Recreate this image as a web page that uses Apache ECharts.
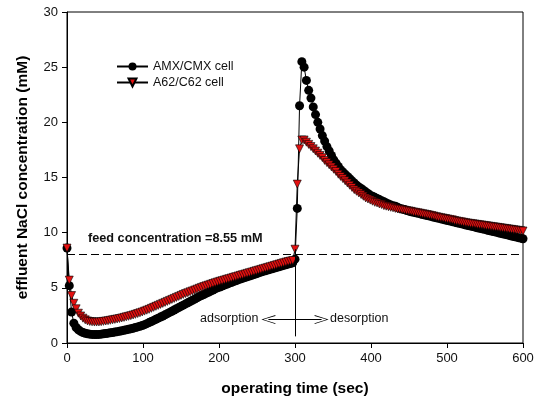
<!DOCTYPE html>
<html>
<head>
<meta charset="utf-8">
<script src="https://cdn.jsdelivr.net/npm/echarts@6/dist/echarts.min.js"></script>
<style>
  html, body { margin: 0; padding: 0; background: #fff; }
  #chart { width: 540px; height: 399px; }
</style>
</head>
<body>
<div id="chart"></div>
<script>
// sampling grid: one point every 3 s from 0 to 600 s
const tStart = 0;
const tStep = 3;

// AMX/CMX cell, effluent NaCl (mM)
const amxAdsorption = [
  8.6, 5.2, 2.8, 1.8, 1.4, 1.2, 1.05, 0.95, 0.88, 0.83,
  0.8, 0.78, 0.77, 0.77, 0.78, 0.8, 0.83, 0.86, 0.89, 0.92,
  0.95, 0.99, 1.03, 1.07, 1.11, 1.15, 1.19, 1.24, 1.29, 1.34,
  1.4, 1.46, 1.52, 1.58, 1.66, 1.75, 1.85, 1.95, 2.05, 2.15,
  2.25, 2.35, 2.45, 2.55, 2.66, 2.77, 2.88, 2.99, 3.1, 3.21,
  3.32, 3.43, 3.54, 3.65, 3.76, 3.87, 3.98, 4.09, 4.2, 4.3,
  4.4, 4.5, 4.6, 4.7, 4.8, 4.9, 5.0, 5.08, 5.16, 5.24,
  5.32, 5.4, 5.48, 5.56, 5.64, 5.72, 5.79, 5.86, 5.93, 6.0,
  6.07, 6.14, 6.21, 6.28, 6.35, 6.42, 6.49, 6.55, 6.61, 6.67,
  6.73, 6.79, 6.85, 6.91, 6.97, 7.03, 7.09, 7.15, 7.21, 7.27
];
const amxDesorption = [
  7.6, 12.2, 21.5, 25.5, 25.0, 23.8, 22.9, 22.2, 21.4, 20.7,
  20.0, 19.4, 18.8, 18.3, 17.8, 17.4, 17.0, 16.6, 16.3, 16.0,
  15.7, 15.5, 15.3, 15.1, 14.9, 14.7, 14.5, 14.3, 14.15, 14.0,
  13.85, 13.7, 13.55, 13.4, 13.3, 13.2, 13.1, 13.0, 12.9, 12.8,
  12.7, 12.6, 12.5, 12.45, 12.4, 12.3, 12.2, 12.15, 12.1, 12.0,
  11.95, 11.9, 11.85, 11.8, 11.75, 11.7, 11.65, 11.6, 11.55, 11.5,
  11.45, 11.4, 11.35, 11.3, 11.25, 11.2, 11.15, 11.1, 11.05, 11.0,
  10.95, 10.9, 10.85, 10.8, 10.75, 10.7, 10.65, 10.6, 10.55, 10.5,
  10.45, 10.4, 10.35, 10.3, 10.25, 10.2, 10.15, 10.1, 10.05, 10.0,
  9.95, 9.9, 9.85, 9.8, 9.75, 9.7, 9.65, 9.6, 9.55, 9.5,
  9.45
];

// A62/C62 cell, effluent NaCl (mM)
const a62Adsorption = [
  8.6, 5.7, 4.3, 3.6, 3.1, 2.7, 2.45, 2.25, 2.1, 2.0,
  1.95, 1.92, 1.9, 1.9, 1.91, 1.93, 1.96, 1.99, 2.02, 2.06,
  2.1, 2.14, 2.18, 2.22, 2.27, 2.32, 2.37, 2.42, 2.48, 2.54,
  2.6, 2.67, 2.74, 2.81, 2.89, 2.97, 3.05, 3.14, 3.23, 3.32,
  3.41, 3.5, 3.59, 3.68, 3.77, 3.86, 3.95, 4.04, 4.13, 4.22,
  4.31, 4.4, 4.48, 4.56, 4.64, 4.72, 4.8, 4.88, 4.96, 5.04,
  5.11, 5.18, 5.25, 5.32, 5.39, 5.46, 5.53, 5.59, 5.65, 5.71,
  5.77, 5.83, 5.89, 5.95, 6.01, 6.07, 6.13, 6.19, 6.25, 6.31,
  6.37, 6.43, 6.49, 6.55, 6.61, 6.67, 6.73, 6.79, 6.85, 6.91,
  6.97, 7.03, 7.09, 7.15, 7.21, 7.27, 7.33, 7.38, 7.43, 7.48
];
const a62Desorption = [
  8.5, 14.4, 17.6, 18.4, 18.4, 18.2, 18.0, 17.8, 17.6, 17.4,
  17.2, 17.0, 16.8, 16.55, 16.35, 16.15, 15.95, 15.75, 15.55, 15.3,
  15.1, 14.9, 14.7, 14.5, 14.3, 14.1, 13.9, 13.75, 13.6, 13.45,
  13.3, 13.15, 13.05, 12.95, 12.85, 12.75, 12.7, 12.6, 12.55, 12.45,
  12.4, 12.35, 12.3, 12.25, 12.2, 12.15, 12.12, 12.08, 12.05, 12.0,
  11.97, 11.93, 11.88, 11.84, 11.8, 11.76, 11.72, 11.68, 11.64, 11.6,
  11.55, 11.5, 11.45, 11.4, 11.36, 11.32, 11.28, 11.24, 11.2, 11.16,
  11.1, 11.06, 11.02, 10.98, 10.94, 10.9, 10.87, 10.84, 10.81, 10.78,
  10.75, 10.72, 10.69, 10.66, 10.63, 10.6, 10.57, 10.54, 10.51, 10.48,
  10.45, 10.42, 10.39, 10.36, 10.33, 10.3, 10.27, 10.24, 10.21, 10.18,
  10.15
];

const xTicks = [0, 100, 200, 300, 400, 500, 600];
const yTicks = [0, 5, 10, 15, 20, 25, 30];
const feedLevel = 8;

const toPairs = vals => vals.map((v, i) => [tStart + i * tStep, v]);
const amxData = toPairs(amxAdsorption.concat(amxDesorption));
const a62Data = toPairs(a62Adsorption.concat(a62Desorption));

const font = '"Liberation Sans", Arial, sans-serif';
const chevron = 'path://M5,0 L10,14 L9,14 L5,2 L1,14 L0,14 Z';

const chart = echarts.init(document.getElementById('chart'));

chart.setOption({
  animation: false,
  textStyle: { fontFamily: font },
  grid: {
    left: 67, right: 17, top: 12, bottom: 56,
    outerBoundsMode: 'none',
    show: true, borderColor: '#000', borderWidth: 1
  },
  legend: {
    orient: 'vertical',
    left: 111, top: 55,
    itemWidth: 31, itemHeight: 10, itemGap: 3,
    textStyle: { fontSize: 12.5, color: '#111', fontFamily: font },
    data: ['AMX/CMX cell', 'A62/C62 cell']
  },
  xAxis: {
    type: 'value',
    min: xTicks[0], max: xTicks[xTicks.length - 1], interval: 100,
    name: 'operating time (sec)',
    nameLocation: 'middle', nameGap: 38,
    nameTextStyle: { fontSize: 15.5, fontWeight: 'bold', color: '#000' },
    axisLine: { lineStyle: { color: '#000', width: 1 } },
    axisTick: { length: 5, lineStyle: { color: '#000' } },
    axisLabel: { fontSize: 13, color: '#111', margin: 9 },
    splitLine: { show: false }
  },
  yAxis: {
    type: 'value',
    min: yTicks[0], max: yTicks[yTicks.length - 1], interval: 5,
    name: 'effluent NaCl concentration (mM)',
    nameLocation: 'middle', nameGap: 36,
    nameTextStyle: { fontSize: 15.5, fontWeight: 'bold', color: '#000' },
    axisLine: { show: true, lineStyle: { color: '#000', width: 1 } },
    axisTick: { show: true, length: 5, lineStyle: { color: '#000' } },
    axisLabel: { fontSize: 13, color: '#111', margin: 9 },
    splitLine: { show: false }
  },
  series: [
    {
      name: 'AMX/CMX cell',
      type: 'line',
      data: amxData,
      symbol: 'circle',
      symbolSize: 9,
      itemStyle: { color: '#000' },
      lineStyle: { color: '#000', width: 1 },
      z: 2,
      markLine: {
        silent: true,
        symbol: ['none', 'none'],
        label: { show: false },
        lineStyle: { color: '#000', width: 1.2, type: [8, 4] },
        data: [{ yAxis: feedLevel }]
      }
    },
    {
      name: 'A62/C62 cell',
      type: 'line',
      data: a62Data,
      symbol: 'triangle',
      symbolRotate: 180,
      symbolSize: 8,
      itemStyle: { color: '#e31010', borderColor: '#000', borderWidth: 0.6 },
      lineStyle: { color: '#000', width: 1 },
      z: 3,
      markLine: {
        silent: true,
        label: { show: false },
        lineStyle: { color: '#000', width: 1, type: 'solid' },
        data: [
          [{ coord: [300, 0.6], symbol: 'none' }, { coord: [300, 8.5], symbol: 'none' }],
          [{ coord: [300, 2.12], symbol: 'none' }, { coord: [265, 2.12], symbol: chevron, symbolSize: [9, 14] }],
          [{ coord: [300, 2.12], symbol: 'none' }, { coord: [335, 2.12], symbol: chevron, symbolSize: [9, 14] }]
        ]
      }
    }
  ],
  graphic: [
    {
      type: 'text', left: 88, top: 232,
      style: { text: 'feed concentration =8.55 mM', font: 'bold 12.7px ' + font, fill: '#111' }
    },
    {
      type: 'text', left: 200, top: 312,
      style: { text: 'adsorption', font: '12.5px ' + font, fill: '#111' }
    },
    {
      type: 'text', left: 330, top: 312,
      style: { text: 'desorption', font: '12.5px ' + font, fill: '#111' }
    }
  ]
});
</script>
</body>
</html>
